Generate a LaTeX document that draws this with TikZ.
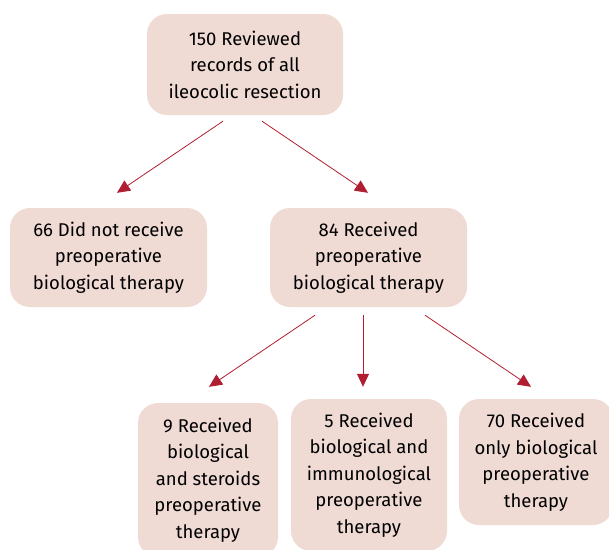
\documentclass[tikz,border=0pt]{standalone}
\usepackage{fontspec}
\setmainfont{Fira Sans}
\usetikzlibrary{arrows.meta}

\definecolor{boxfill}{HTML}{EFDAD4}
\definecolor{arrowred}{HTML}{B01E32}

\tikzset{
  flowbox/.style={fill=boxfill, rounded corners=20pt, align=center, inner sep=0pt,
    font=\fontsize{18.5}{26.5}\selectfont},
  flowarrow/.style={-{Triangle[length=13pt,width=12pt]}, arrowred, line width=0.8pt}
}

\begin{document}
\begin{tikzpicture}[x=1pt,y=-1pt]
\clip (0,0) rectangle (609,549);

% boxes
\node[flowbox, minimum width=196pt, minimum height=101pt] (nAll) at (245,64.5) {150 Reviewed\\records of all\\ileocolic resection};
\node[flowbox, minimum width=197pt, minimum height=99pt] (nNone) at (108.5,257.5) {66 Did not receive\\preoperative\\biological therapy};
\node[flowbox, minimum width=197pt, minimum height=99pt] (nBio) at (368.5,257.5) {84 Received\\preoperative\\biological therapy};
\node[flowbox, minimum width=140pt, minimum height=154pt] (nSteroid) at (208,480) {9 Received\\biological\\and steroids\\preoperative\\therapy};
\node[flowbox, minimum width=156pt, minimum height=152pt] (nImmuno) at (369,475) {5 Received\\biological and\\immunological\\preoperative\\therapy};
\node[flowbox, minimum width=154pt, minimum height=126pt] (nOnly) at (536,462) {70 Received\\only biological\\preoperative\\therapy};

% arrows
\draw[flowarrow] ([xshift=-22pt,yshift=-6pt]nAll.south) -- ([xshift=8.5pt,yshift=15pt]nNone.north);
\draw[flowarrow] ([xshift=17pt,yshift=-6pt]nAll.south) -- ([xshift=-0.5pt,yshift=15pt]nBio.north);

\draw[flowarrow] ([xshift=-53.5pt,yshift=-8pt]nBio.south) -- ([xshift=1pt,yshift=16pt]nSteroid.north);
\draw[flowarrow] ([xshift=-5.5pt,yshift=-8pt]nBio.south) -- ([xshift=-6pt,yshift=12pt]nImmuno.north);
\draw[flowarrow] ([xshift=56.5pt,yshift=-8pt]nBio.south) -- ([xshift=-5pt,yshift=12pt]nOnly.north);
\end{tikzpicture}
\end{document}
